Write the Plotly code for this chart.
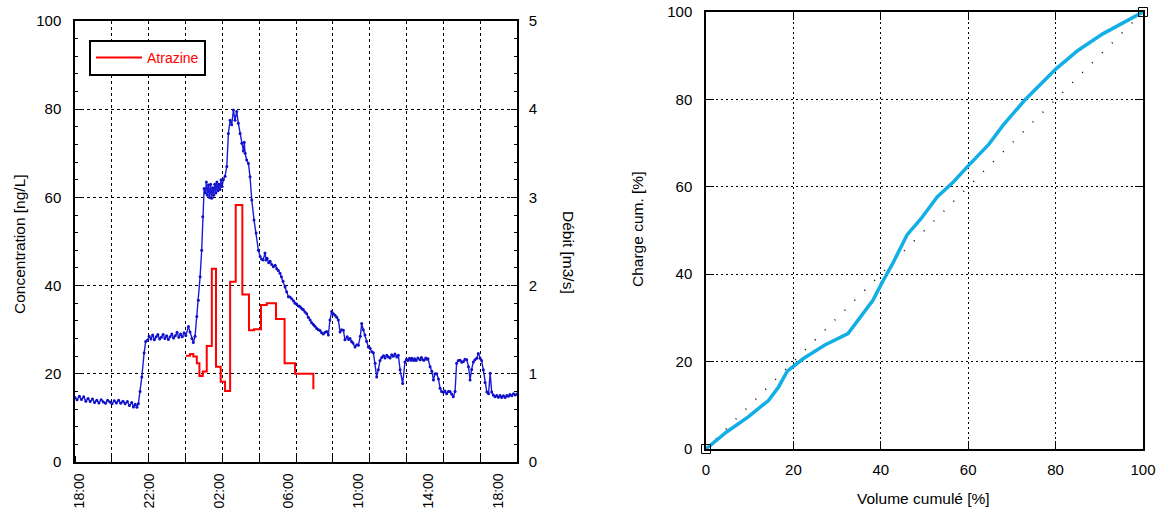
import numpy as np
import plotly.graph_objects as go

# ---------------- data: left chart ----------------
# time in hours after 18:00 of day 1 ; flow (Débit) in m3/s
flow_hours = (
    [-0.25, -0.13, 0.0, 0.12, 0.25, 0.37, 0.5, 0.62, 0.75, 0.87, 1.0, 1.12, 1.25, 1.37, 1.5, 1.62,
     1.75, 1.87, 2.0, 2.12, 2.25, 2.37, 2.5, 2.62, 2.75, 2.87, 3.0, 3.1, 3.2, 3.3, 3.38]
    + [3.48, 3.58, 3.71, 3.80]
    + [3.9, 4.0, 4.1, 4.2, 4.3, 4.4, 4.5, 4.6, 4.7, 4.8, 4.9, 5.0, 5.1, 5.2, 5.3, 5.4, 5.5, 5.6, 5.7,
       5.8, 5.9, 6.0, 6.1]
    + [6.25, 6.34, 6.45, 6.53, 6.63, 6.73, 6.82, 6.92, 7.01, 7.07, 7.15]
    + [7.22, 7.28, 7.34, 7.40, 7.46, 7.52, 7.58, 7.64, 7.70, 7.76, 7.82, 7.88, 7.94, 8.00, 8.06, 8.12,
       8.18, 8.25]
    + [8.35, 8.45, 8.54, 8.64, 8.73, 8.83, 8.92, 9.02, 9.11, 9.21, 9.31, 9.40, 9.45, 9.50, 9.59, 9.69,
       9.78, 9.88, 10.01, 10.13, 10.26, 10.36, 10.45, 10.53, 10.64, 10.70, 10.76, 10.85, 10.93, 11.02,
       11.12, 11.22, 11.31, 11.40, 11.50, 11.58, 11.67, 11.79, 11.88, 11.98, 12.07, 12.17, 12.27, 12.36,
       12.45, 12.55, 12.62, 12.70, 12.77, 12.84, 12.93, 13.03, 13.12, 13.22, 13.31, 13.41, 13.50, 13.60,
       13.70, 13.79, 13.88, 13.98, 14.08, 14.17, 14.27]
    + [14.36, 14.46, 14.55, 14.65, 14.75, 14.84, 14.94, 15.03, 15.13, 15.22, 15.35, 15.43, 15.51, 15.60,
       15.68, 15.80, 15.90, 15.99, 16.10, 16.18, 16.27, 16.37, 16.46, 16.56, 16.66, 16.76, 16.85, 16.95,
       17.04, 17.13, 17.23, 17.33]
    + [17.43, 17.52, 17.62, 17.71, 17.81, 17.90, 17.99, 18.09, 18.19, 18.28, 18.38, 18.53, 18.66]
    + [18.75, 18.83, 18.92, 19.00, 19.06, 19.15, 19.22, 19.30, 19.40, 19.52, 19.60, 19.68, 19.75, 19.85,
       19.92, 19.98, 20.10, 20.20, 20.29, 20.38, 20.48, 20.58, 20.67, 20.76, 20.86, 20.95, 21.05, 21.15,
       21.24, 21.33, 21.43, 21.53, 21.62, 21.72, 21.82, 21.92, 22.01, 22.10, 22.20, 22.30, 22.39, 22.48,
       22.58, 22.67, 22.77, 22.86, 22.96, 23.05, 23.15, 23.25, 23.35, 23.45, 23.54, 23.63, 23.72, 23.82,
       23.92, 24.01, 24.11, 24.20, 24.30, 24.40, 24.50, 24.59, 24.68, 24.78, 24.88, 24.98, 25.08]
)
flow_m3s = (
    [0.730, 0.705, 0.745, 0.710, 0.740, 0.690, 0.720, 0.685, 0.715, 0.675, 0.700, 0.670, 0.705, 0.680,
     0.665, 0.700, 0.680, 0.660, 0.695, 0.670, 0.700, 0.665, 0.690, 0.660, 0.685, 0.640, 0.675, 0.625,
     0.655, 0.620, 0.660]
    + [0.800, 0.965, 1.235, 1.365]
    + [1.380, 1.425, 1.395, 1.440, 1.385, 1.420, 1.445, 1.395, 1.415, 1.445, 1.400, 1.430, 1.390, 1.420,
       1.450, 1.405, 1.430, 1.470, 1.415, 1.450, 1.420, 1.465, 1.435]
    + [1.535, 1.475, 1.400, 1.355, 1.425, 1.650, 1.835, 2.100, 2.400, 2.780, 3.100]
    + [3.050, 3.175, 3.025, 3.140, 3.000, 3.150, 2.990, 3.110, 3.025, 3.150, 3.050, 3.175, 3.075, 3.150,
       3.090, 3.200, 3.125, 3.200]
    + [3.240, 3.350, 3.725, 3.875, 3.825, 3.990, 3.875, 3.975, 3.840, 3.725, 3.615, 3.525, 3.625, 3.500,
       3.425, 3.385, 3.235, 2.970, 2.745, 2.595, 2.400, 2.330, 2.300, 2.290, 2.370, 2.290, 2.310, 2.260,
       2.275, 2.240, 2.215, 2.230, 2.190, 2.170, 2.140, 2.100, 2.050, 1.985, 1.930, 1.875, 1.870, 1.850,
       1.825, 1.800, 1.790, 1.770, 1.765, 1.750, 1.735, 1.725, 1.700, 1.680, 1.640, 1.610, 1.580, 1.560,
       1.540, 1.515, 1.500, 1.490, 1.465, 1.450, 1.470, 1.480, 1.440]
    + [1.610, 1.705, 1.680, 1.665, 1.640, 1.610, 1.475, 1.500, 1.495, 1.385, 1.420, 1.390, 1.400, 1.365,
       1.350, 1.305, 1.330, 1.325, 1.425, 1.570, 1.500, 1.440, 1.370, 1.305, 1.290, 1.250, 1.240, 1.120,
       0.965, 1.045, 1.150, 1.185]
    + [1.205, 1.180, 1.210, 1.190, 1.180, 1.215, 1.200, 1.225, 1.190, 1.210, 1.045, 0.890, 1.135]
    + [1.165, 1.150, 1.175, 1.155, 1.175, 1.150, 1.170, 1.150, 1.180, 1.160, 1.185, 1.160, 1.155, 1.180,
       1.165, 1.170, 1.080, 1.030, 0.930, 1.000, 1.000, 0.940, 0.835, 0.800, 0.790, 0.805, 0.775, 0.800,
       0.800, 0.770, 0.740, 0.800, 1.120, 1.150, 1.155, 1.130, 1.140, 1.165, 1.160, 1.080, 0.930, 1.050,
       1.135, 1.160, 1.175, 1.230, 1.175, 1.150, 1.045, 0.900, 0.795, 0.775, 1.005, 0.795, 0.760, 0.740,
       0.755, 0.735, 0.755, 0.730, 0.750, 0.730, 0.755, 0.745, 0.765, 0.750, 0.775, 0.760, 0.770]
)
assert len(flow_hours) == len(flow_m3s)

# Atrazine concentration (ng/L), step series
atrazine_hours = [6.11, 6.34, 6.53, 6.73, 6.88, 7.07, 7.30, 7.59, 7.83, 8.10, 8.35, 8.64, 8.96, 9.34,
                  9.72, 10.01, 10.41, 10.74, 11.27, 11.76, 12.36, 13.41]
atrazine_ngL = [24.1, 24.5, 23.9, 22.4, 19.5, 20.5, 26.3, 43.8, 21.6, 18.2, 16.1, 40.9, 58.3, 38.0,
                29.9, 30.1, 35.6, 36.0, 32.4, 22.4, 20.0, 16.5]

time_tick_hours = [0, 4, 8, 12, 16, 20, 24]
time_tick_labels = ["18:00", "22:00", "02:00", "06:00", "10:00", "14:00", "18:00"]

# ---------------- data: right chart ----------------
volume_cum = [0, 4.7, 9.6, 14.3, 16.6, 18.6, 22.3, 27.2, 32.5, 35.3, 38.2, 40.2, 42.7, 46.0, 49.2,
              52.9, 56.6, 60.1, 64.7, 68.0, 72.9, 80.1, 85.1, 90.8, 95.8, 100]
charge_cum = [0, 3.9, 7.3, 11.1, 14.2, 17.8, 20.7, 23.8, 26.4, 30.2, 34.0, 37.9, 42.4, 49.0, 52.7,
              57.7, 61.1, 64.9, 69.7, 74.1, 79.8, 87.0, 91.2, 95.0, 97.7, 100]
diag = [0, 100]

# ---------------- figure ----------------
W, H = 1158, 511
FONT = "Liberation Sans, Arial, sans-serif"
xr = [-0.25, 25.08]
grid_x = list(np.linspace(xr[0], xr[1], 13))

fig = go.Figure()

fig.add_trace(go.Scatter(
    x=flow_hours, y=flow_m3s, xaxis="x", yaxis="y2", mode="lines+markers",
    line=dict(color="#1C1CD8", width=1.4), marker=dict(size=3, color="#1010C8"),
    showlegend=False, name="Débit"))

fig.add_trace(go.Scatter(
    x=atrazine_hours, y=atrazine_ngL, xaxis="x", yaxis="y", mode="lines",
    line=dict(color="#FF0000", width=2, shape="hv"), name="Atrazine", showlegend=True))

fig.add_trace(go.Scatter(
    x=diag, y=diag, xaxis="x2", yaxis="y3", mode="lines",
    line=dict(color="black", width=1.5, dash="1px,13px"), showlegend=False))

fig.add_trace(go.Scatter(
    x=volume_cum, y=charge_cum, xaxis="x2", yaxis="y3", mode="lines",
    line=dict(color="#12AEE6", width=3.5), showlegend=False))

fig.add_trace(go.Scatter(
    x=[volume_cum[0], volume_cum[-1]], y=[charge_cum[0], charge_cum[-1]], xaxis="x2", yaxis="y3",
    mode="markers", marker=dict(symbol="square-open", size=9, color="black", line=dict(width=1)),
    cliponaxis=False, showlegend=False))

tickfont = dict(family=FONT, size=15, color="black")
xtickfont = dict(family=FONT, size=14, color="black")
gridstyle = dict(gridcolor="black", griddash="3px,3px", gridwidth=1)

fig.update_layout(
    width=W, height=H, margin=dict(l=0, r=0, t=0, b=0, autoexpand=False),
    paper_bgcolor="white", plot_bgcolor="white",
    font=dict(family=FONT, size=15, color="black"),
    showlegend=True,
    legend=dict(x=89 / W, y=1 - 40 / H, xanchor="left", yanchor="top",
                bordercolor="black", borderwidth=2, bgcolor="white",
                font=dict(family=FONT, size=14, color="#FF0000"),
                itemwidth=46, tracegroupgap=0),
    xaxis=dict(domain=[75 / W, 517 / W], range=xr, anchor="y", automargin=False,
               tickmode="array", tickvals=time_tick_hours, ticktext=time_tick_labels,
               tickangle=-90, ticks="", showgrid=False, tickfont=xtickfont,
               ticklabelstandoff=4,
               showline=True, linecolor="black", linewidth=1.5, mirror=True, zeroline=False,
               minor=dict(tickmode="array", tickvals=grid_x, ticks="inside", ticklen=6,
                          tickcolor="black", showgrid=True, **gridstyle)),
    yaxis=dict(domain=[1 - 462 / H, 1 - 21 / H], range=[0, 100], anchor="x", automargin=False,
               tickmode="linear", tick0=0, dtick=20, ticks="inside", ticklen=6, tickcolor="black",
               showgrid=True, **gridstyle, tickfont=tickfont, ticklabelstandoff=9,
               showline=True, linecolor="black", linewidth=1.5, zeroline=False,
               minor=dict(dtick=4, ticks="inside", ticklen=3, tickcolor="black", showgrid=False)),
    yaxis2=dict(range=[0, 5], overlaying="y", side="right", anchor="x", automargin=False,
                tickmode="linear", tick0=0, dtick=1, ticks="inside", ticklen=6, tickcolor="black",
                showgrid=False, tickfont=tickfont, ticklabelstandoff=7,
                showline=True, linecolor="black", linewidth=1.5, zeroline=False,
                minor=dict(dtick=0.2, ticks="inside", ticklen=3, tickcolor="black")),
    xaxis2=dict(domain=[706 / W, 1143 / W], range=[0, 100], anchor="y3", automargin=False,
                tickmode="linear", tick0=0, dtick=20, ticks="inside", ticklen=8, tickcolor="black",
                showgrid=True, gridcolor="black", griddash="2px,3px", gridwidth=1,
                tickfont=tickfont, ticklabelstandoff=6,
                showline=True, linecolor="black", linewidth=1.5, mirror="ticks", zeroline=False),
    yaxis3=dict(domain=[1 - 449 / H, 1 - 12 / H], range=[0, 100], anchor="x2", automargin=False,
                tickmode="linear", tick0=0, dtick=20, ticks="inside", ticklen=8, tickcolor="black",
                showgrid=True, gridcolor="black", griddash="2px,3px", gridwidth=1,
                tickfont=tickfont, ticklabelstandoff=9,
                showline=True, linecolor="black", linewidth=1.5, mirror="ticks", zeroline=False),
)

ann_font = dict(family=FONT, size=15.5, color="black")
common = dict(xref="paper", yref="paper", showarrow=False, font=ann_font,
              xanchor="center", yanchor="middle")
fig.add_annotation(text="Concentration [ng/L]", x=19 / W, y=1 - 244 / H, textangle=-90, **common)
fig.add_annotation(text="Débit [m3/s]", x=569 / W, y=1 - 252 / H, textangle=90, **common)
fig.add_annotation(text="Charge cum. [%]", x=637 / W, y=1 - 230 / H, textangle=-90, **common)
fig.add_annotation(text="Volume cumulé [%]", x=924 / W, y=1 - 498 / H, **common)

fig.write_html("out.html", config={"displayModeBar": False},
               post_script="document.body.style.margin='0px';")
